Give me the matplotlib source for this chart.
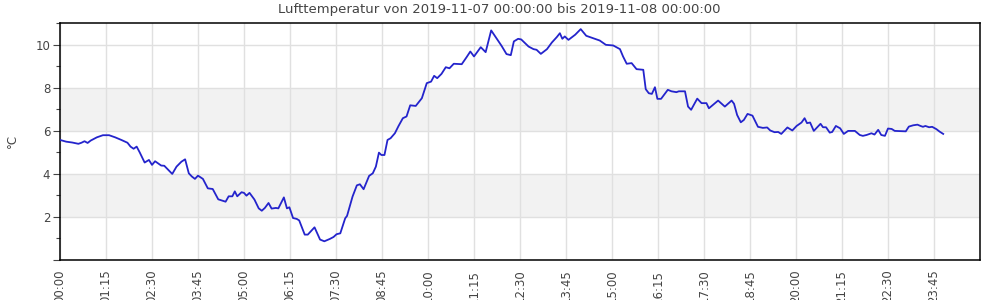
#!/usr/bin/env python3
import numpy as np
import matplotlib
matplotlib.use("Agg")
import matplotlib.pyplot as plt
from matplotlib.ticker import FixedLocator, FuncFormatter, MultipleLocator

# sample times (HH:MM on 2019-11-07, "24:00" = 2019-11-08 00:00)
times = [
    "00:00", "00:10", "00:20", "00:30", "00:35", "00:40", "00:45", "00:50",
    "01:00", "01:10", "01:20", "01:30", "01:40", "01:50", "01:55", "02:00",
    "02:05", "02:10", "02:18", "02:25", "02:30", "02:35", "02:45", "02:50",
    "03:03", "03:10", "03:18", "03:24", "03:30", "03:35", "03:40", "03:45",
    "03:53", "04:01", "04:09", "04:18", "04:30", "04:35", "04:41", "04:45",
    "04:49", "04:56", "05:00", "05:04", "05:09", "05:17", "05:24", "05:29",
    "05:34", "05:40", "05:45", "05:52", "05:56", "06:05", "06:10", "06:14",
    "06:20", "06:26", "06:30", "06:39", "06:44", "06:55", "07:04", "07:11",
    "07:20", "07:26", "07:31", "07:37", "07:45", "07:48", "07:57", "08:04",
    "08:09", "08:15", "08:24", "08:30", "08:35", "08:40", "08:44", "08:49",
    "08:54", "08:59", "09:06", "09:12", "09:19", "09:25", "09:31", "09:40",
    "09:50", "09:58", "10:05", "10:10", "10:15", "10:22", "10:29", "10:35",
    "10:42", "10:55", "11:03", "11:09", "11:15", "11:26", "11:34", "11:43",
    "11:54", "12:00", "12:08", "12:15", "12:20", "12:27", "12:32", "12:44",
    "12:52", "12:57", "13:04", "13:14", "13:22", "13:30", "13:35", "13:39",
    "13:43", "13:49", "14:00", "14:09", "14:18", "14:32", "14:40", "14:50",
    "15:02", "15:08", "15:13", "15:18", "15:24", "15:32", "15:40", "15:51",
    "15:55", "16:00", "16:05", "16:10", "16:14", "16:20", "16:31", "16:37",
    "16:45", "16:49", "16:59", "17:04", "17:09", "17:19", "17:26", "17:34",
    "17:38", "17:53", "18:04", "18:15", "18:19", "18:24", "18:30", "18:35",
    "18:41", "18:49", "18:58", "19:06", "19:13", "19:18", "19:25", "19:31",
    "19:36", "19:46", "19:54", "20:01", "20:09", "20:14", "20:18", "20:23",
    "20:29", "20:40", "20:44", "20:49", "20:55", "20:59", "21:05", "21:12",
    "21:18", "21:25", "21:36", "21:44", "21:49", "21:55", "22:03", "22:08",
    "22:14", "22:19", "22:25", "22:30", "22:36", "22:41", "22:59", "23:04",
    "23:11", "23:18", "23:23", "23:27", "23:31", "23:37", "23:42", "23:49",
    "23:54", "24:00",
]

temp_c = [
    5.58, 5.50, 5.46, 5.40, 5.45, 5.52, 5.44, 5.55,
    5.70, 5.80, 5.80, 5.70, 5.58, 5.45, 5.27, 5.17,
    5.27, 5.00, 4.53, 4.65, 4.42, 4.59, 4.39, 4.38,
    4.00, 4.34, 4.57, 4.68, 4.03, 3.88, 3.77, 3.92,
    3.77, 3.33, 3.30, 2.82, 2.71, 2.96, 2.96, 3.19,
    2.96, 3.15, 3.12, 2.99, 3.12, 2.81, 2.40, 2.29,
    2.42, 2.65, 2.39, 2.42, 2.40, 2.91, 2.40, 2.45,
    1.95, 1.91, 1.84, 1.18, 1.18, 1.52, 0.95, 0.87,
    0.98, 1.07, 1.20, 1.24, 1.94, 2.05, 2.95, 3.47,
    3.52, 3.29, 3.91, 4.03, 4.34, 4.99, 4.88, 4.88,
    5.58, 5.66, 5.89, 6.23, 6.59, 6.67, 7.19, 7.16,
    7.52, 8.22, 8.29, 8.56, 8.45, 8.65, 8.96, 8.91,
    9.12, 9.10, 9.43, 9.69, 9.46, 9.89, 9.66, 10.67,
    10.20, 9.95, 9.57, 9.52, 10.16, 10.28, 10.25, 9.92,
    9.80, 9.77, 9.58, 9.80, 10.11, 10.36, 10.54, 10.28,
    10.39, 10.23, 10.47, 10.73, 10.42, 10.28, 10.20, 10.00,
    9.97, 9.88, 9.80, 9.46, 9.12, 9.15, 8.87, 8.84,
    7.94, 7.75, 7.72, 8.03, 7.49, 7.49, 7.91, 7.84,
    7.80, 7.84, 7.84, 7.13, 6.98, 7.50, 7.29, 7.29,
    7.05, 7.41, 7.13, 7.41, 7.26, 6.74, 6.40, 6.51,
    6.79, 6.71, 6.19, 6.14, 6.16, 6.02, 5.94, 5.95,
    5.86, 6.16, 6.02, 6.23, 6.39, 6.59, 6.36, 6.39,
    6.00, 6.33, 6.17, 6.17, 5.92, 5.95, 6.23, 6.12,
    5.86, 6.00, 6.00, 5.81, 5.77, 5.81, 5.89, 5.83,
    6.05, 5.81, 5.77, 6.11, 6.09, 6.00, 5.98, 6.20,
    6.26, 6.29, 6.23, 6.19, 6.23, 6.17, 6.19, 6.08,
    5.97, 5.86,
]

title = "Lufttemperatur von 2019-11-07 00:00:00 bis 2019-11-08 00:00:00"
y_label = "°C"
bands = [(2, 4), (6, 8)]

txt = "#444444"


def to_minutes(s):
    h, m = s.split(":")
    return int(h) * 60 + int(m)


minutes = np.array([to_minutes(t) for t in times], dtype=float)
values = np.array(temp_c, dtype=float)

fig = plt.figure(figsize=(10, 3), dpi=100)
ax = fig.add_axes([0.06, 0.1333, 0.92, 0.789])

for lo, hi in bands:
    ax.axhspan(lo, hi, color="#f2f2f2", lw=0, zorder=0)

ax.plot(minutes, values, color="#2424cc", lw=1.3, zorder=3)

ax.set_xlim(0, 1500)
ax.set_ylim(0, 11)

ax.xaxis.set_major_locator(FixedLocator(np.arange(0, 1440, 75)))
ax.xaxis.set_major_formatter(FuncFormatter(lambda v, p: f"{int(v) // 60:02d}:{int(v) % 60:02d}"))
ax.yaxis.set_major_locator(FixedLocator([0, 2, 4, 6, 8, 10]))
ax.yaxis.set_major_formatter(FuncFormatter(lambda v, p: "" if v == 0 else f"{v:g}"))
ax.yaxis.set_minor_locator(MultipleLocator(1))

ax.tick_params(axis="x", length=0, pad=7, labelrotation=90, labelsize=8.5, labelcolor=txt)
ax.tick_params(axis="y", which="major", length=5, width=0.8, color=txt, labelsize=8.5, labelcolor=txt, pad=2)
ax.tick_params(axis="y", which="minor", length=3, width=0.8, color=txt)
for lbl in ax.get_xticklabels():
    lbl.set_verticalalignment("top")

ax.grid(True, which="major", color="#e0e0e0", lw=1.0, zorder=1)
ax.set_axisbelow(True)
for sp in ax.spines.values():
    sp.set_color("black")
    sp.set_linewidth(1.1)

fig.text(0.499, 0.945, title, ha="center", va="bottom", fontsize=9.5, color=txt)
fig.text(0.006, 0.53, y_label, rotation=90, ha="left", va="center", fontsize=8.5, color=txt)

fig.savefig("out.png", dpi=100)
